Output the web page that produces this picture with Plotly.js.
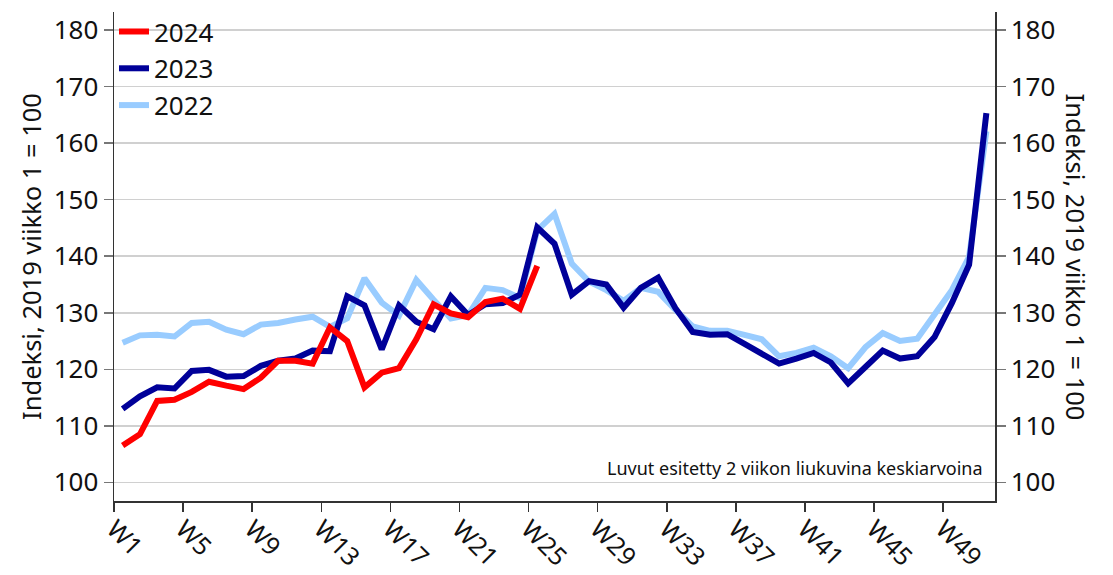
<!DOCTYPE html>
<html>
<head>
<meta charset="utf-8">
<script src="https://cdn.plot.ly/plotly-3.0.1.min.js"></script>
<style>html,body{margin:0;padding:0;background:#fff;}#chart{width:1113px;height:575px;}</style>
</head>
<body>
<div id="chart"></div>
<script>
// Weeks (category index 1..51)
const weeks = [1,2,3,4,5,6,7,8,9,10,11,12,13,14,15,16,17,18,19,20,21,22,23,24,25,26,27,28,29,30,31,32,33,34,35,36,37,38,39,40,41,42,43,44,45,46,47,48,49,50,51];
const tickLabels = ['W1','W5','W9','W13','W17','W21','W25','W29','W33','W37','W41','W45','W49'];

const values2024 = [106.5,108.5,114.4,114.6,116.0,117.8,117.1,116.5,118.5,121.5,121.5,121.0,127.4,125.0,116.8,119.4,120.2,125.3,131.5,129.9,129.2,131.9,132.5,130.7,138.3];

const values2023 = [113.0,115.2,116.8,116.6,119.7,119.9,118.7,118.8,120.6,121.5,121.9,123.3,123.2,132.9,131.3,123.5,131.3,128.4,127.1,132.9,129.6,131.5,131.7,133.2,145.1,142.2,133.2,135.6,135.0,130.9,134.4,136.2,130.8,126.6,126.1,126.2,124.5,122.7,121.0,121.9,122.9,121.2,117.5,120.4,123.3,121.9,122.3,125.7,131.7,138.5,165.3];

const values2022 = [124.7,126.0,126.1,125.8,128.2,128.4,127.0,126.2,127.9,128.2,128.8,129.3,127.5,129.0,136.1,131.8,129.5,135.8,132.3,129.0,129.6,134.4,134.0,132.6,144.6,147.5,138.7,135.5,134.0,132.1,134.4,133.7,130.5,127.6,126.8,126.8,126.1,125.3,122.3,122.9,123.8,122.3,120.2,123.9,126.4,125.0,125.4,129.6,134.0,139.9,162.1];

const series = [
  {name:'2022', values: values2022, color:'#99ccff'},
  {name:'2023', values: values2023, color:'#000099'},
  {name:'2024', values: values2024, color:'#ff0000'}
];

const FONT = 'Noto Sans, Open Sans, sans-serif';

const traces = series.map(s => ({
  type:'scatter', mode:'lines', name:s.name,
  x: weeks.slice(0, s.values.length), y: s.values,
  line:{color:s.color, width:6},
  legendgroup:s.name,
  hoverinfo:'x+y'
}));

// invisible helper trace so right axis is drawn
traces.push({type:'scatter', mode:'none', x:[weeks[0]], y:[150], yaxis:'y2', showlegend:false, hoverinfo:'skip'});

const yRange = [96.7, 183.2];
const yTicks = [100,110,120,130,140,150,160,170,180];

const layout = {
  width:1113, height:575,
  margin:{l:114, r:118, t:8, b:74, pad:0},
  paper_bgcolor:'#fff', plot_bgcolor:'#fff',
  font:{family:FONT, color:'#111', size:24},
  showlegend:true,
  legend:{x:0, y:1.008, xanchor:'left', yanchor:'top', traceorder:'reversed', bgcolor:'rgba(0,0,0,0)',
          font:{family:FONT, size:26, color:'#111'}, tracegroupgap:8, borderwidth:0, itemwidth:30},
  xaxis:{
    type:'linear', range:[0.5, 51.5],
    tickmode:'array', tickvals: tickLabels.map(l => +l.slice(1) - 0.5), ticktext: tickLabels,
    tickangle:45, ticks:'outside', ticklen:9, tickcolor:'#333', tickwidth:1.5,
    ticklabelstandoff:-7,
    showline:true, linecolor:'#333', linewidth:1.5,
    showgrid:false, zeroline:false,
    tickfont:{family:FONT, size:25, color:'#111'}
  },
  yaxis:{
    range:yRange, tickmode:'array', tickvals:yTicks,
    ticks:'outside', ticklen:9, tickcolor:'#777', tickwidth:1.5,
    showline:true, linecolor:'#333', linewidth:1.5,
    gridcolor:'#d0d0d0', gridwidth:1.5, zeroline:false,
    tickfont:{family:FONT, size:26, color:'#111'},
    title:{text:'Indeksi, 2019 viikko 1 = 100', font:{family:FONT, size:25.5, color:'#111'}, standoff:4}
  },
  yaxis2:{
    overlaying:'y', side:'right', range:yRange, tickmode:'array', tickvals:yTicks,
    ticks:'outside', ticklen:9, tickcolor:'#777', tickwidth:1.5,
    showline:true, linecolor:'#333', linewidth:1.5,
    showgrid:false, zeroline:false,
    tickfont:{family:FONT, size:26, color:'#111'}
  },
  annotations:[
    {text:'Indeksi, 2019 viikko 1 = 100', textangle:90, xref:'paper', yref:'paper', x:1, xshift:81, y:0.5, showarrow:false,
     font:{family:FONT, size:25.5, color:'#111'}, xanchor:'center', yanchor:'middle'},
    {text:'Luvut esitetty 2 viikon liukuvina keskiarvoina', xref:'paper', yref:'y', x:0.9885, y:102.5, showarrow:false,
     xanchor:'right', yanchor:'middle', font:{family:FONT, size:18, color:'#111'}}
  ]
};

Plotly.newPlot('chart', traces, layout, {displayModeBar:false, staticPlot:true});
</script>
</body>
</html>
